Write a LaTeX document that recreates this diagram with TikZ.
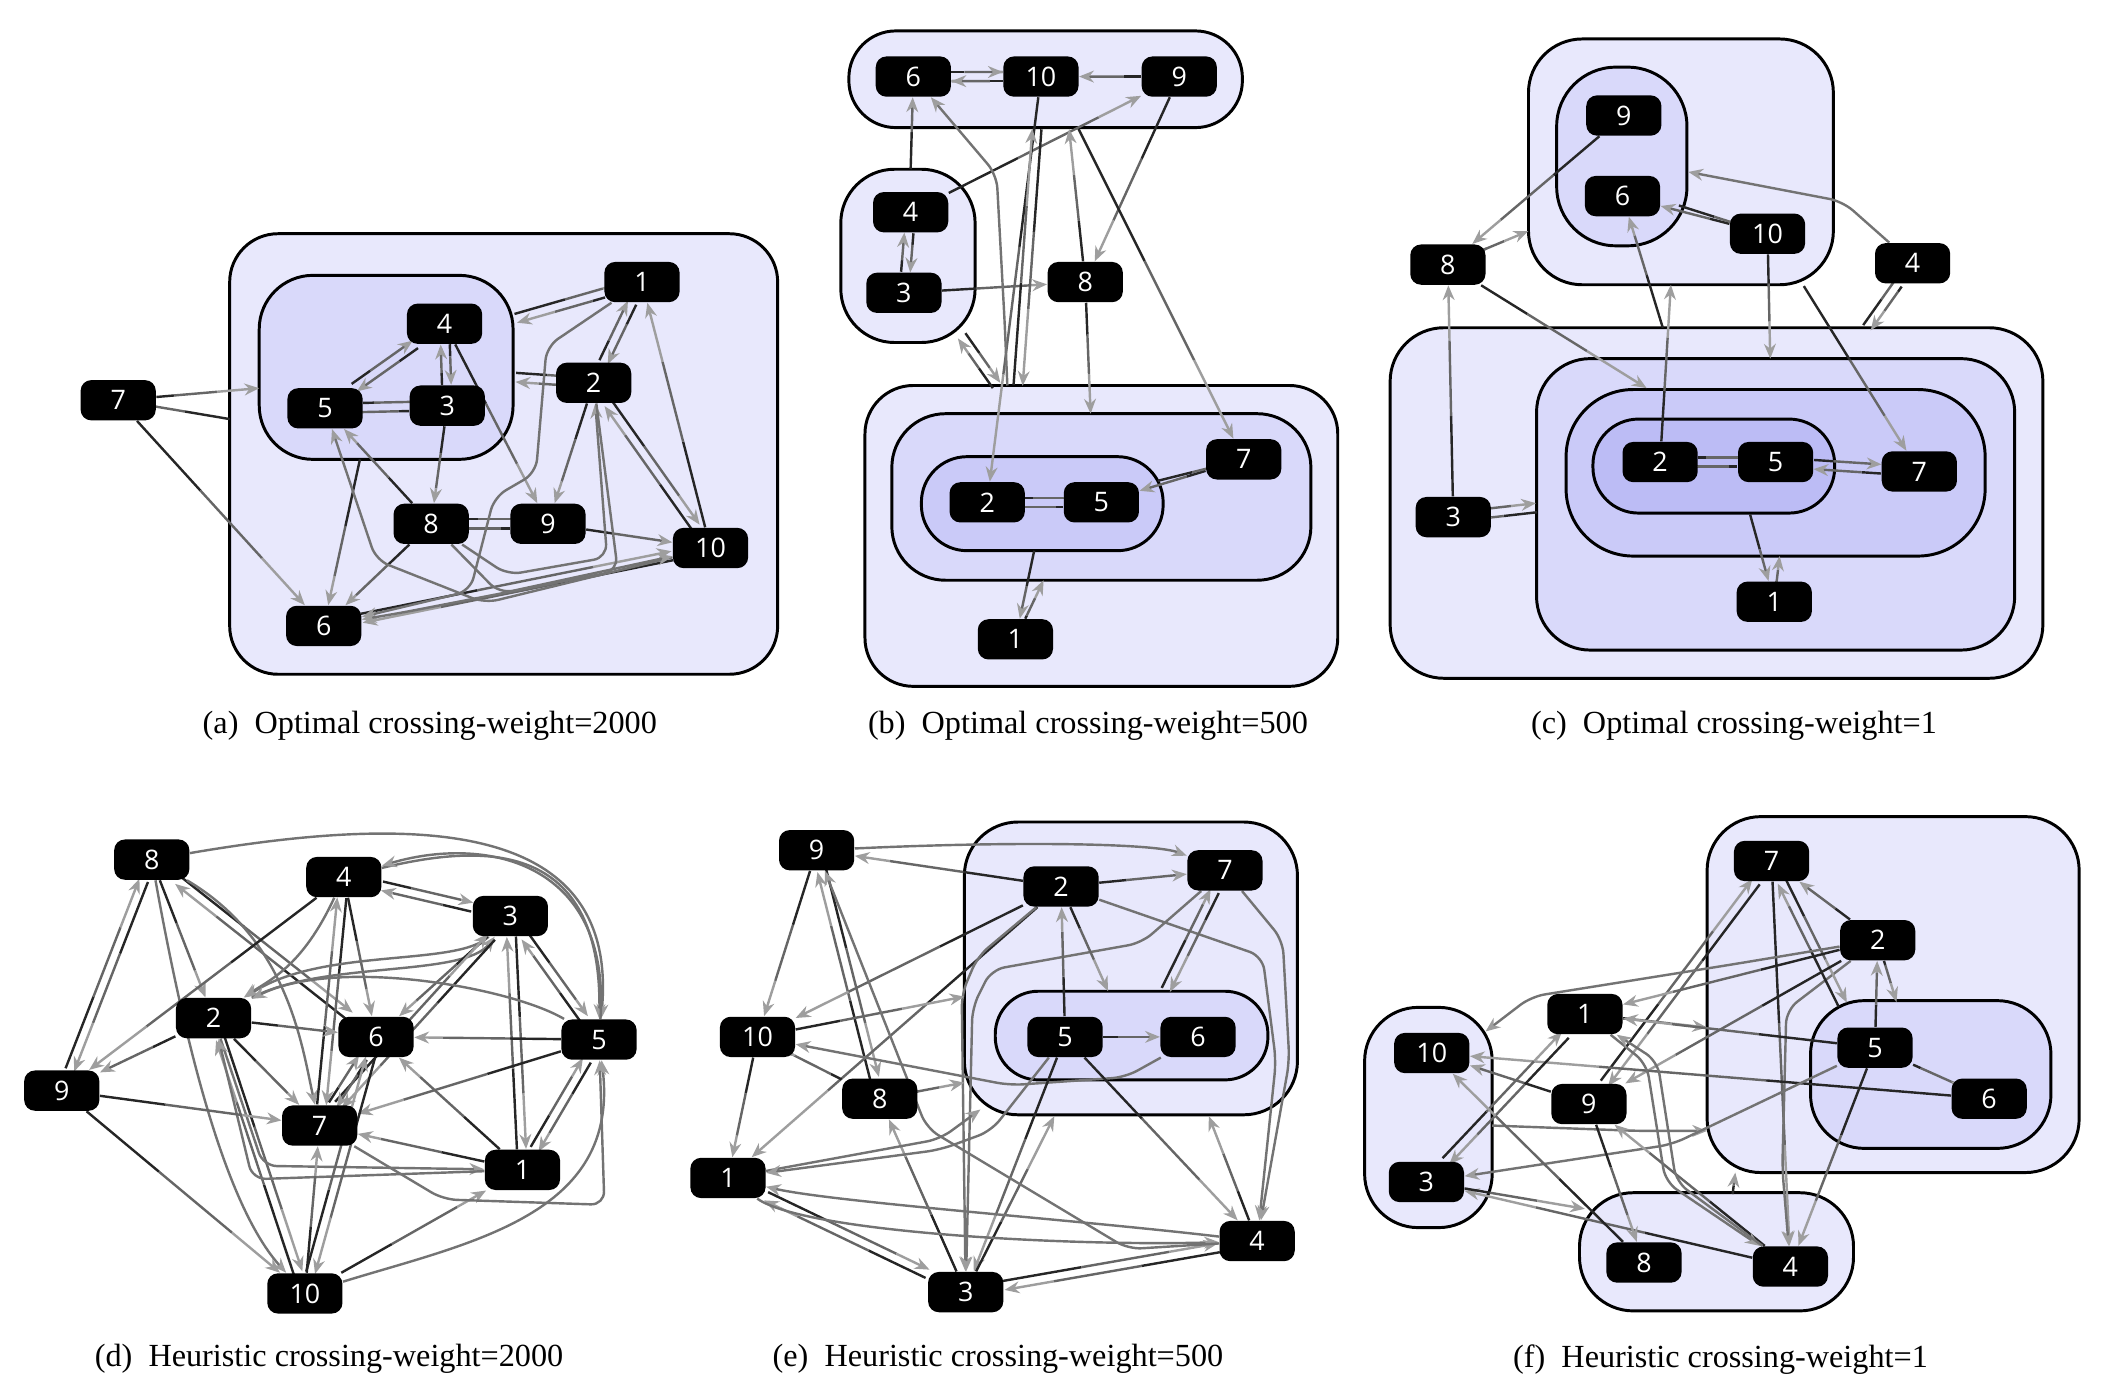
\documentclass[tikz,border=0pt]{standalone}
\usepackage{fontspec}
\setmainfont{Liberation Serif}
\newfontfamily\vtxfont{Open Sans}
\usetikzlibrary{arrows.meta,calc}

\definecolor{lvA}{HTML}{E8E8FC}
\definecolor{lvB}{HTML}{D9D9FA}
\definecolor{lvC}{HTML}{CACAF8}
\definecolor{lvD}{HTML}{BCBCF5}

\pgfdeclarelayer{bg}
\pgfdeclarelayer{wires}
\pgfsetlayers{bg,wires,main}

% edge fading from dark (source) to light (target)
\newcommand\oneway[2]{%
  \draw[wdark] (#1) -- ($(#1)!0.4!(#2)$);
  \draw[wmid] ($(#1)!0.4!(#2)$) -- ($(#1)!0.7!(#2)$);
  \draw[wlight] ($(#1)!0.7!(#2)$) -- (#2);}
% both directions, side by side
\newcommand\twoway[2]{%
  \pgfmathanglebetweenpoints{\pgfpointanchor{#1}{center}}{\pgfpointanchor{#2}{center}}%
  \let\wraw\pgfmathresult
  \pgfmathsetmacro\wangA{\wraw+90}%
  \pgfmathsetmacro\wangB{\wraw-90}%
  \begin{scope}[transform canvas={shift={(\wangA:1.7pt)}}]\oneway{#1}{#2}\end{scope}
  \begin{scope}[transform canvas={shift={(\wangB:1.7pt)}}]\oneway{#2}{#1}\end{scope}}

\tikzset{
  vtx/.style={rectangle, rounded corners=4pt, fill=black, text=white,
    font=\vtxfont\fontsize{10}{10}\selectfont, minimum width=28pt, minimum height=15pt, inner sep=0pt},
  grp/.style={draw=black, line width=1.1pt},
  wdark/.style={draw=black!85, line width=0.9pt},
  wmid/.style={draw=black!60, line width=0.9pt},
  wlight/.style={draw=black!38, line width=0.9pt, -{Stealth[length=5.5pt, width=4.4pt]}},
  wcurve/.style={draw=black!55, line width=0.9pt, rounded corners=5pt,
    -{Stealth[length=5.5pt, width=4.4pt, color=black!38]}},
  subcap/.style={font=\fontsize{12}{12}\selectfont},
}

\begin{document}
\begin{tikzpicture}[x=0.5pt, y=-0.5pt]
\useasboundingbox (0,0) rectangle (1568,1030);

% ---------- (a)
\begin{pgfonlayer}{bg}
  \draw[grp, fill=lvA, rounded corners=18pt] (171,174) rectangle (579,502);
  \draw[grp, fill=lvB, rounded corners=20pt] (193,205) rectangle (382,342);
\end{pgfonlayer}
\node[vtx] (a7) at (88,298) {7};
\node[vtx] (a1) at (478,210) {1};
\node[vtx] (a4) at (331,241) {4};
\node[vtx] (a2) at (442,285) {2};
\node[vtx] (a5) at (242,304) {5};
\node[vtx] (a3) at (333,302) {3};
\node[vtx] (a8) at (321,390) {8};
\node[vtx] (a9) at (408,390) {9};
\node[vtx] (a10) at (529,408) {10};
\node[vtx] (a6) at (241,466) {6};
\coordinate (aInL) at (193,289);
\coordinate (aOutL) at (171,312);
\coordinate (aInT) at (384,237);
\coordinate (aInR) at (384,281);
\coordinate (aInB) at (268,342);
\begin{pgfonlayer}{wires}
  \oneway{a7}{aInL}
  \oneway{aOutL}{a7}
  \oneway{a7}{a6}
  \twoway{a1}{aInT}
  \twoway{a1}{a2}
  \twoway{a2}{aInR}
  \oneway{a4}{a9}
  \twoway{a4}{a5}
  \twoway{a4}{a3}
  \twoway{a5}{a3}
  \oneway{a3}{a8}
  \oneway{a8}{a5}
  \twoway{a8}{a9}
  \oneway{a9}{a10}
  \oneway{a2}{a9}
  \twoway{a2}{a10}
  \oneway{a10}{a1}
  \oneway{a8}{a6}
  \oneway{aInB}{a6}
  \twoway{a10}{a6}
  \draw[wcurve] (a1) -- (407,258) -- (399,352) -- (368,370) -- (350,440) -- (a6);
  \draw[wcurve] (a10) -- (361,449) -- (280,417) -- (a5);
  \draw[wcurve] (a8) -- (378,428) -- (452,415) -- (a2);
  \draw[wcurve] (a8) -- (372,442) -- (a10);
  \draw[wcurve] (a2) -- (460,425) -- (300,456) -- (a6);
\end{pgfonlayer}
\node[subcap] (capa) at (320,540) {(a)\ \ Optimal crossing-weight=2000};

% ---------- (b)
\begin{pgfonlayer}{bg}
  \draw[grp, fill=lvA, rounded corners=17.5pt] (632,23) rectangle (925,95);
  \draw[grp, fill=lvA, rounded corners=20pt] (626,126) rectangle (726,255);
  \draw[grp, fill=lvA, rounded corners=18pt] (644,287) rectangle (996,511);
  \draw[grp, fill=lvB, rounded corners=20pt] (664,308) rectangle (976,432);
  \draw[grp, fill=lvC, rounded corners=17pt] (686,340) rectangle (866,410);
\end{pgfonlayer}
\node[vtx] (b6) at (680,57) {6};
\node[vtx] (b10) at (775,57) {10};
\node[vtx] (b9) at (878,57) {9};
\node[vtx] (b4) at (678,158) {4};
\node[vtx] (b3) at (673,218) {3};
\node[vtx] (b8) at (808,210) {8};
\node[vtx] (b7) at (926,342) {7};
\node[vtx] (b2) at (735,374) {2};
\node[vtx] (b5) at (820,374) {5};
\node[vtx] (b1) at (756,476) {1};
\coordinate (bLeftT) at (678,126);
\coordinate (bTopBL) at (772,96);
\coordinate (bBotT) at (758,287);
\coordinate (bTopB) at (796,96);
\coordinate (bTopX) at (803,96);
\coordinate (bLeftB) at (716,250);
\coordinate (bBotT2) at (742,287);
\coordinate (bBotT3) at (750,287);
\coordinate (bMidT) at (812,308);
\coordinate (bInR) at (862,358);
\coordinate (bInB) at (770,410);
\coordinate (bMidB) at (777,432);
\begin{pgfonlayer}{wires}
  \twoway{b6}{b10}
  \oneway{b9}{b10}
  \oneway{bLeftT}{b6}
  \oneway{b4}{b9}
  \oneway{b9}{b8}
  \twoway{b4}{b3}
  \oneway{b3}{b8}
  \oneway{b8}{bTopB}
  \oneway{b8}{bMidT}
  \oneway{bTopX}{b7}
  \oneway{b10}{b2}
  \twoway{bBotT}{bTopBL}
  \draw[wcurve] (bBotT3) -- (748,240) -- (742,130) -- (b6);
  \twoway{bLeftB}{bBotT2}
  \twoway{b2}{b5}
  \oneway{b7}{b5}
  \oneway{bInR}{b7}
  \oneway{bInB}{b1}
  \oneway{b1}{bMidB}
\end{pgfonlayer}
\node[subcap] (capb) at (810,540) {(b)\ \ Optimal crossing-weight=500};

% ---------- (c)
\begin{pgfonlayer}{bg}
  \draw[grp, fill=lvA, rounded corners=20pt] (1138,29) rectangle (1365,212);
  \draw[grp, fill=lvB, rounded corners=22pt] (1159,50) rectangle (1256,183);
  \draw[grp, fill=lvA, rounded corners=20pt] (1035,244) rectangle (1521,505);
  \draw[grp, fill=lvB, rounded corners=20pt] (1144,267) rectangle (1500,484);
  \draw[grp, fill=lvC, rounded corners=25pt] (1166,290) rectangle (1478,414);
  \draw[grp, fill=lvD, rounded corners=17pt] (1186,312) rectangle (1366,382);
\end{pgfonlayer}
\node[vtx] (c9) at (1209,86) {9};
\node[vtx] (c6) at (1208,146) {6};
\node[vtx] (c10) at (1316,174) {10};
\node[vtx] (c8) at (1078,197) {8};
\node[vtx] (c4) at (1424,196) {4};
\node[vtx] (c3) at (1082,385) {3};
\node[vtx] (c2) at (1236,344) {2};
\node[vtx] (c5) at (1322,344) {5};
\node[vtx] (c7) at (1429,351) {7};
\node[vtx] (c1) at (1321,448) {1};
\coordinate (cTopL) at (1138,172);
\coordinate (cL3T) at (1226,289);
\coordinate (cL2L) at (1144,378);
\coordinate (cTopIn) at (1250,153);
\coordinate (cTopInR) at (1257,128);
\coordinate (cBotT) at (1390,244);
\coordinate (cBotT2) at (1238,244);
\coordinate (cTopB) at (1244,212);
\coordinate (cL2T) at (1318,267);
\coordinate (cTopB2) at (1343,213);
\coordinate (cL4B) at (1303,383);
\coordinate (cL3B) at (1325,414);
\begin{pgfonlayer}{wires}
  \oneway{c9}{c8}
  \oneway{c8}{cTopL}
  \oneway{c8}{cL3T}
  \oneway{c3}{c8}
  \twoway{c3}{cL2L}
  \oneway{c10}{c6}
  \oneway{cTopIn}{c10}
  \draw[wcurve] (c4) -- (1372,150) -- (cTopInR);
  \twoway{c4}{cBotT}
  \oneway{cBotT2}{c6}
  \oneway{c2}{cTopB}
  \oneway{c10}{cL2T}
  \oneway{cTopB2}{c7}
  \twoway{c2}{c5}
  \twoway{c5}{c7}
  \oneway{cL4B}{c1}
  \oneway{c1}{cL3B}
\end{pgfonlayer}
\node[subcap] (capc) at (1291,540) {(c)\ \ Optimal crossing-weight=1};

% ---------- (d)
\node[vtx] (d8) at (113,640) {8};
\node[vtx] (d4) at (256,653) {4};
\node[vtx] (d3) at (380,682) {3};
\node[vtx] (d2) at (159,758) {2};
\node[vtx] (d6) at (280,772) {6};
\node[vtx] (d5) at (446,774) {5};
\node[vtx] (d9) at (46,812) {9};
\node[vtx] (d7) at (238,838) {7};
\node[vtx] (d1) at (389,871) {1};
\node[vtx] (d10) at (227,963) {10};
\begin{pgfonlayer}{wires}
  \draw[wcurve] (d8) .. controls (300,608) and (462,605) .. (d5);
  \draw[wcurve] (d4) .. controls (360,628) and (448,625) .. (d5);
  \draw[wcurve] (d5) .. controls (455,640) and (360,622) .. (d4);
  \twoway{d4}{d3}
  \twoway{d8}{d9}
  \oneway{d8}{d2}
  \draw[wcurve] (d8) .. controls (140,790) and (170,900) .. (d10);
  \twoway{d8}{d6}
  \draw[wcurve] (d8) .. controls (215,700) and (225,780) .. (d7);
  \oneway{d4}{d9}
  \twoway{d4}{d7}
  \oneway{d4}{d6}
  \draw[wcurve] (d4) .. controls (225,720) and (200,730) .. (d2);
  \draw[wcurve] (d3) .. controls (340,720) and (240,705) .. (d2);
  \draw[wcurve] (d2) .. controls (240,715) and (345,728) .. (d3);
  \oneway{d3}{d6}
  \twoway{d3}{d7}
  \twoway{d3}{d1}
  \twoway{d3}{d5}
  \oneway{d2}{d6}
  \oneway{d2}{d9}
  \oneway{d2}{d7}
  \twoway{d2}{d10}
  \draw[wcurve] (d2) -- (196,868) -- (d1);
  \draw[wcurve] (d1) -- (188,878) -- (d2);
  \draw[wcurve] (d5) .. controls (380,735) and (250,712) .. (d2);
  \oneway{d5}{d6}
  \oneway{d5}{d7}
  \twoway{d5}{d1}
  \twoway{d6}{d7}
  \oneway{d1}{d6}
  \oneway{d1}{d7}
  \oneway{d9}{d7}
  \oneway{d9}{d10}
  \oneway{d10}{d7}
  \twoway{d10}{d6}
  \oneway{d10}{d1}
  \draw[wcurve] (d10) .. controls (350,925) and (462,905) .. (d5);
  \draw[wcurve] (d7) -- (330,893) -- (450,897) -- (d5);
\end{pgfonlayer}
\node[subcap] (capd) at (245,1012) {(d)\ \ Heuristic crossing-weight=2000};

% ---------- (e)
\begin{pgfonlayer}{bg}
  \draw[grp, fill=lvA, rounded corners=20pt] (718,612) rectangle (966,830);
  \draw[grp, fill=lvB, rounded corners=16pt] (741,738) rectangle (944,804);
\end{pgfonlayer}
\node[vtx] (e9) at (608,633) {9};
\node[vtx] (e2) at (790,660) {2};
\node[vtx] (e7) at (912,648) {7};
\node[vtx] (e10) at (564,772) {10};
\node[vtx] (e5) at (793,772) {5};
\node[vtx] (e6) at (892,772) {6};
\node[vtx] (e8) at (655,818) {8};
\node[vtx] (e1) at (542,877) {1};
\node[vtx] (e4) at (936,924) {4};
\node[vtx] (e3) at (719,962) {3};
\coordinate (eOutL1) at (718,742);
\coordinate (eOutL2) at (718,806);
\coordinate (eOutBL) at (730,826);
\coordinate (eOutB) at (785,831);
\coordinate (eOutB2) at (900,831);
\coordinate (eInT) at (825,738);
\coordinate (eInT2) at (868,737);
\begin{pgfonlayer}{wires}
  \draw[wcurve] (e9) .. controls (760,626) and (860,628) .. (e7);
  \oneway{e2}{e9}
  \oneway{e2}{e7}
  \oneway{e9}{e10}
  \twoway{e9}{e8}
  \oneway{e2}{e10}
  \oneway{e2}{e1}
  \draw[wcurve] (e2) -- (728,712) -- (716,740) -- (e3);
  \draw[wcurve] (e7) -- (850,702) -- (738,722) -- (724,750) -- (e3);
  \draw[wcurve] (e2) -- (940,712) -- (950,790) -- (e4);
  \draw[wcurve] (e7) -- (955,700) -- (960,790) -- (e4);
  \oneway{e2}{eInT}
  \twoway{e7}{eInT2}
  \oneway{e5}{e2}
  \oneway{e5}{e6}
  \oneway{e10}{eOutL1}
  \oneway{e10}{e1}
  \oneway{e8}{e10}
  \draw[wcurve] (e6) -- (838,802) -- (752,808) -- (e10);
  \oneway{e8}{eOutL2}
  \oneway{e3}{e8}
  \oneway{e5}{e3}
  \oneway{e3}{eOutB}
  \draw[wcurve] (e1) -- (700,848) -- (eOutBL);
  \draw[wcurve] (e5) -- (738,842) -- (700,856) -- (e1);
  \oneway{e5}{e4}
  \oneway{e4}{eOutB2}
  \twoway{e1}{e3}
  \draw[wcurve] (e1) .. controls (600,918) and (800,928) .. (e4);
  \draw[wcurve] (e4) .. controls (800,908) and (620,895) .. (e1);
  \twoway{e3}{e4}
  \draw[wcurve] (e4) -- (840,930) -- (690,840) -- (e9);
\end{pgfonlayer}
\node[subcap] (cape) at (743,1012) {(e)\ \ Heuristic crossing-weight=500};

% ---------- (f)
\begin{pgfonlayer}{bg}
  \draw[grp, fill=lvA, rounded corners=20pt] (1271,608) rectangle (1548,873);
  \draw[grp, fill=lvB, rounded corners=20pt] (1348,745) rectangle (1527,855);
  \draw[grp, fill=lvA, rounded corners=20pt] (1016,750) rectangle (1111,914);
  \draw[grp, fill=lvA, rounded corners=20pt] (1176,888) rectangle (1380,976);
\end{pgfonlayer}
\node[vtx] (f7) at (1319,641) {7};
\node[vtx] (f2) at (1398,700) {2};
\node[vtx] (f1) at (1180,755) {1};
\node[vtx] (f10) at (1066,784) {10};
\node[vtx] (f5) at (1396,780) {5};
\node[vtx] (f9) at (1183,822) {9};
\node[vtx] (f6) at (1481,818) {6};
\node[vtx] (f3) at (1062,880) {3};
\node[vtx] (f8) at (1224,940) {8};
\node[vtx] (f4) at (1333,943) {4};
\coordinate (fInTL) at (1372,748);
\coordinate (fInT) at (1412,746);
\coordinate (fLeftT) at (1106,768);
\coordinate (fOutL) at (1271,765);
\coordinate (fOutL2) at (1271,842);
\coordinate (fLeftR) at (1111,838);
\coordinate (fBotL) at (1180,900);
\coordinate (fBotT) at (1290,889);
\coordinate (fOutB) at (1292,873);
\begin{pgfonlayer}{wires}
  \twoway{f7}{f9}
  \oneway{f7}{f4}
  \draw[wcurve] (f2) -- (1330,752) -- (1327,870) -- (f4);
  \oneway{f2}{f7}
  \twoway{f7}{fInTL}
  \draw[wcurve] (f2) -- (1290,718) -- (1140,742) -- (fLeftT);
  \oneway{f2}{f1}
  \oneway{f2}{f9}
  \oneway{f2}{fInT}
  \oneway{f5}{f2}
  \oneway{f1}{fOutL}
  \oneway{f5}{f1}
  \oneway{f5}{f6}
  \oneway{f6}{f10}
  \oneway{f9}{f10}
  \twoway{f1}{f3}
  \draw[wcurve] (fLeftR) -- (1220,842) -- (fOutL2);
  \draw[wcurve] (f5) -- (1245,852) -- (f3);
  \oneway{f4}{f3}
  \oneway{f3}{fBotL}
  \oneway{f8}{f10}
  \oneway{f9}{f8}
  \oneway{f4}{f9}
  \draw[wcurve] (f1) -- (1226,792) -- (1240,880) -- (f4);
  \draw[wcurve] (f4) -- (1248,880) -- (1234,790) -- (f1);
  \oneway{f5}{f4}
  \oneway{fBotT}{fOutB}
\end{pgfonlayer}
\node[subcap] (capf) at (1281,1012) {(f)\ \ Heuristic crossing-weight=1};
\end{tikzpicture}
\end{document}
